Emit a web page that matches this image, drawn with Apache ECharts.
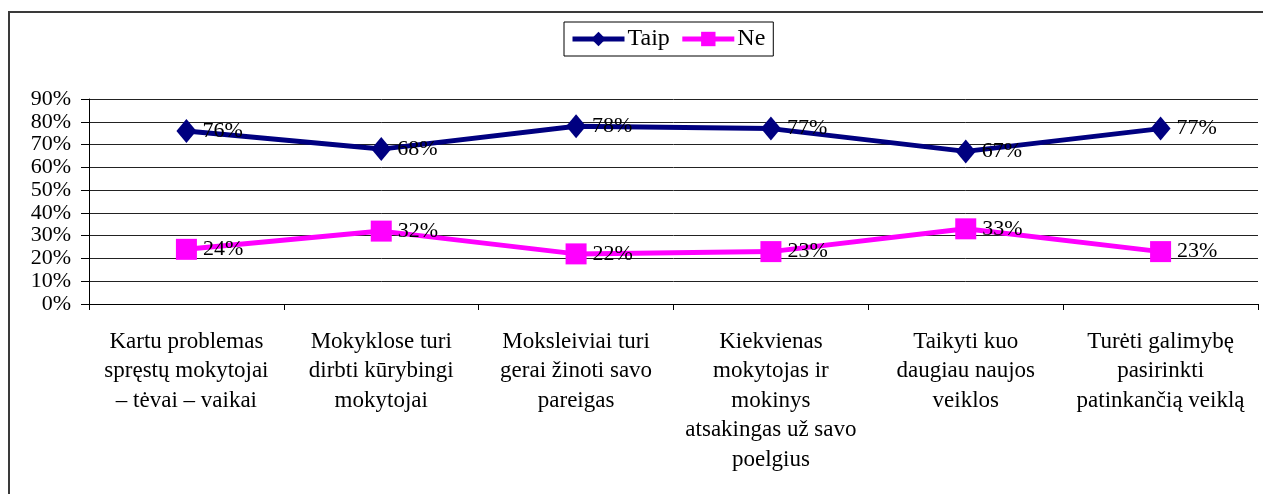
<!DOCTYPE html>
<html>
<head>
<meta charset="utf-8">
<script src="https://cdn.jsdelivr.net/npm/echarts@6/dist/echarts.min.js"></script>
<style>
  html, body { margin: 0; padding: 0; background: #fff; }
  #chart { width: 1263px; height: 494px; }
</style>
</head>
<body>
<div id="chart"></div>
<script>
// Survey answers per statement (percent of respondents)
const categories = [
  'Kartu problemas\nspręstų mokytojai\n– tėvai – vaikai',
  'Mokyklose turi\ndirbti kūrybingi\nmokytojai',
  'Moksleiviai turi\ngerai žinoti savo\npareigas',
  'Kiekvienas\nmokytojas ir\nmokinys\natsakingas už savo\npoelgius',
  'Taikyti kuo\ndaugiau naujos\nveiklos',
  'Turėti galimybę\npasirinkti\npatinkančią veiklą'
];
const seriesNames = ['Taip', 'Ne'];
const taipValues = [76, 68, 78, 77, 67, 77];
const neValues = [24, 32, 22, 23, 33, 23];
const yMin = 0, yMax = 90, yStep = 10;

const FONT = '"Liberation Serif", "Times New Roman", serif';

const chart = echarts.init(document.getElementById('chart'), null, { renderer: 'canvas' });

const labelStyle = {
  show: true,
  position: 'right',
  distance: 6,
  formatter: '{c}%',
  color: '#000',
  fontFamily: FONT,
  fontSize: 22
};

chart.setOption({
  animation: false,
  backgroundColor: '#fff',
  textStyle: { fontFamily: FONT, color: '#000' },
  graphic: [{
    type: 'rect',
    silent: true,
    shape: { x: 9, y: 12, width: 1400, height: 700 },
    style: { fill: 'none', stroke: '#3a3a3a', lineWidth: 2 },
    z: -1
  }],
  legend: {
    top: 22,
    left: 564,
    data: seriesNames,
    itemWidth: 52,
    itemHeight: 18,
    itemGap: 10,
    padding: [5, 8, 5, 6],
    borderColor: '#000',
    borderWidth: 1,
    backgroundColor: '#fff',
    lineStyle: { width: 5 },
    textStyle: { fontFamily: FONT, fontSize: 24, color: '#000', padding: [0, 0, 0, -2] }
  },
  grid: { left: 89, right: 5, top: 99, bottom: 190, containLabel: false },
  xAxis: {
    type: 'category',
    data: categories,
    boundaryGap: true,
    axisLine: { show: true, lineStyle: { color: '#000', width: 1 } },
    axisTick: { show: true, length: 6, alignWithLabel: false, lineStyle: { color: '#000' } },
    axisLabel: {
      interval: 0,
      margin: 23,
      fontFamily: FONT,
      fontSize: 23,
      lineHeight: 29.5,
      color: '#000',
      align: 'center'
    },
    splitLine: { show: false }
  },
  yAxis: {
    type: 'value',
    min: yMin,
    max: yMax,
    interval: yStep,
    axisLine: { show: true, lineStyle: { color: '#000', width: 1 } },
    axisTick: { show: true, length: 8, inside: false, lineStyle: { color: '#000' } },
    axisLabel: {
      margin: 18,
      formatter: '{value}%',
      fontFamily: FONT,
      fontSize: 22,
      color: '#000'
    },
    splitLine: { show: true, lineStyle: { color: '#222', width: 1 } }
  },
  series: [
    {
      name: seriesNames[0],
      type: 'line',
      data: taipValues,
      symbol: 'diamond',
      symbolSize: [20, 24],
      itemStyle: { color: '#000080' },
      lineStyle: { color: '#000080', width: 5 },
      label: labelStyle,
      z: 3
    },
    {
      name: seriesNames[1],
      type: 'line',
      data: neValues,
      symbol: 'rect',
      symbolSize: 21,
      itemStyle: { color: '#FF00FF' },
      lineStyle: { color: '#FF00FF', width: 5 },
      label: labelStyle,
      z: 3
    }
  ]
});
</script>
</body>
</html>
